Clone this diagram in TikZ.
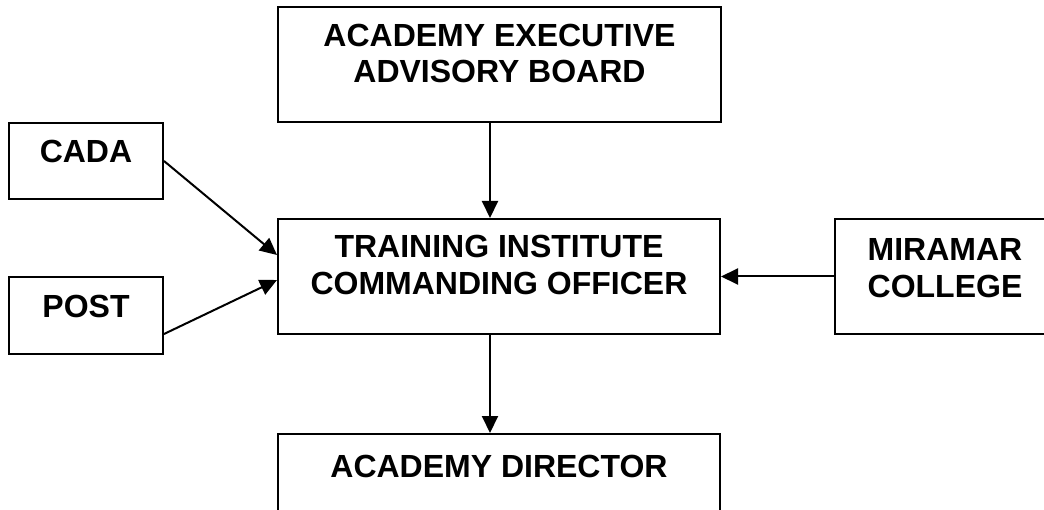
\documentclass[tikz,border=0pt]{standalone}
\usepackage{fontspec}
\setmainfont{Liberation Sans}
\usetikzlibrary{arrows.meta}
\begin{document}
\begin{tikzpicture}[x=1pt,y=-1pt,
  box/.style={draw=black, line width=2pt, rectangle, inner sep=0pt},
  lbl/.style={anchor=north, inner sep=0pt, align=center, font=\bfseries\fontsize{32}{36.8}\selectfont},
  arr/.style={line width=2pt, -{Triangle[length=17pt,width=16pt]}}]
\useasboundingbox (0,0) rectangle (1044,510);
\clip (0,0) rectangle (1044,510);
% boxes
\node[box, minimum width=443, minimum height=115] (aeab) at (499.5,64.5) {};
\node[box, minimum width=442, minimum height=115] (ti) at (499,276.5) {};
\node[box, minimum width=154, minimum height=76] (cada) at (86,161) {};
\node[box, minimum width=154, minimum height=77] (post) at (86,315.5) {};
\node[box, minimum width=220, minimum height=115] (mir) at (945,276.5) {};
\node[box, minimum width=442, minimum height=115] (dir) at (499,491.5) {};
% labels
\node[lbl] (aeabt) at (499.5,23.5) {ACADEMY EXECUTIVE\\ADVISORY BOARD};
\node[lbl] (tit) at (499,235) {TRAINING INSTITUTE\\COMMANDING OFFICER};
\node[lbl] (cadat) at (86,140) {CADA};
\node[lbl] (postt) at (86,295) {POST};
\node[lbl] (mirt) at (945,238) {MIRAMAR\\COLLEGE};
\node[lbl] (dirt) at (499,455) {ACADEMY DIRECTOR};
% connectors
\coordinate (vx) at (490,0);
\draw[arr] (aeab.south -| vx) -- (ti.north -| vx);
\draw[arr] (ti.south -| vx) -- (dir.north -| vx);
\draw[arr] (cada.east) -- ([yshift=21.5pt]ti.west);
\draw[arr] ([yshift=-18.5pt]post.east) -- ([yshift=-3.5pt]ti.west);
\draw[arr] (mir.west) -- (ti.east);
\end{tikzpicture}
\end{document}
